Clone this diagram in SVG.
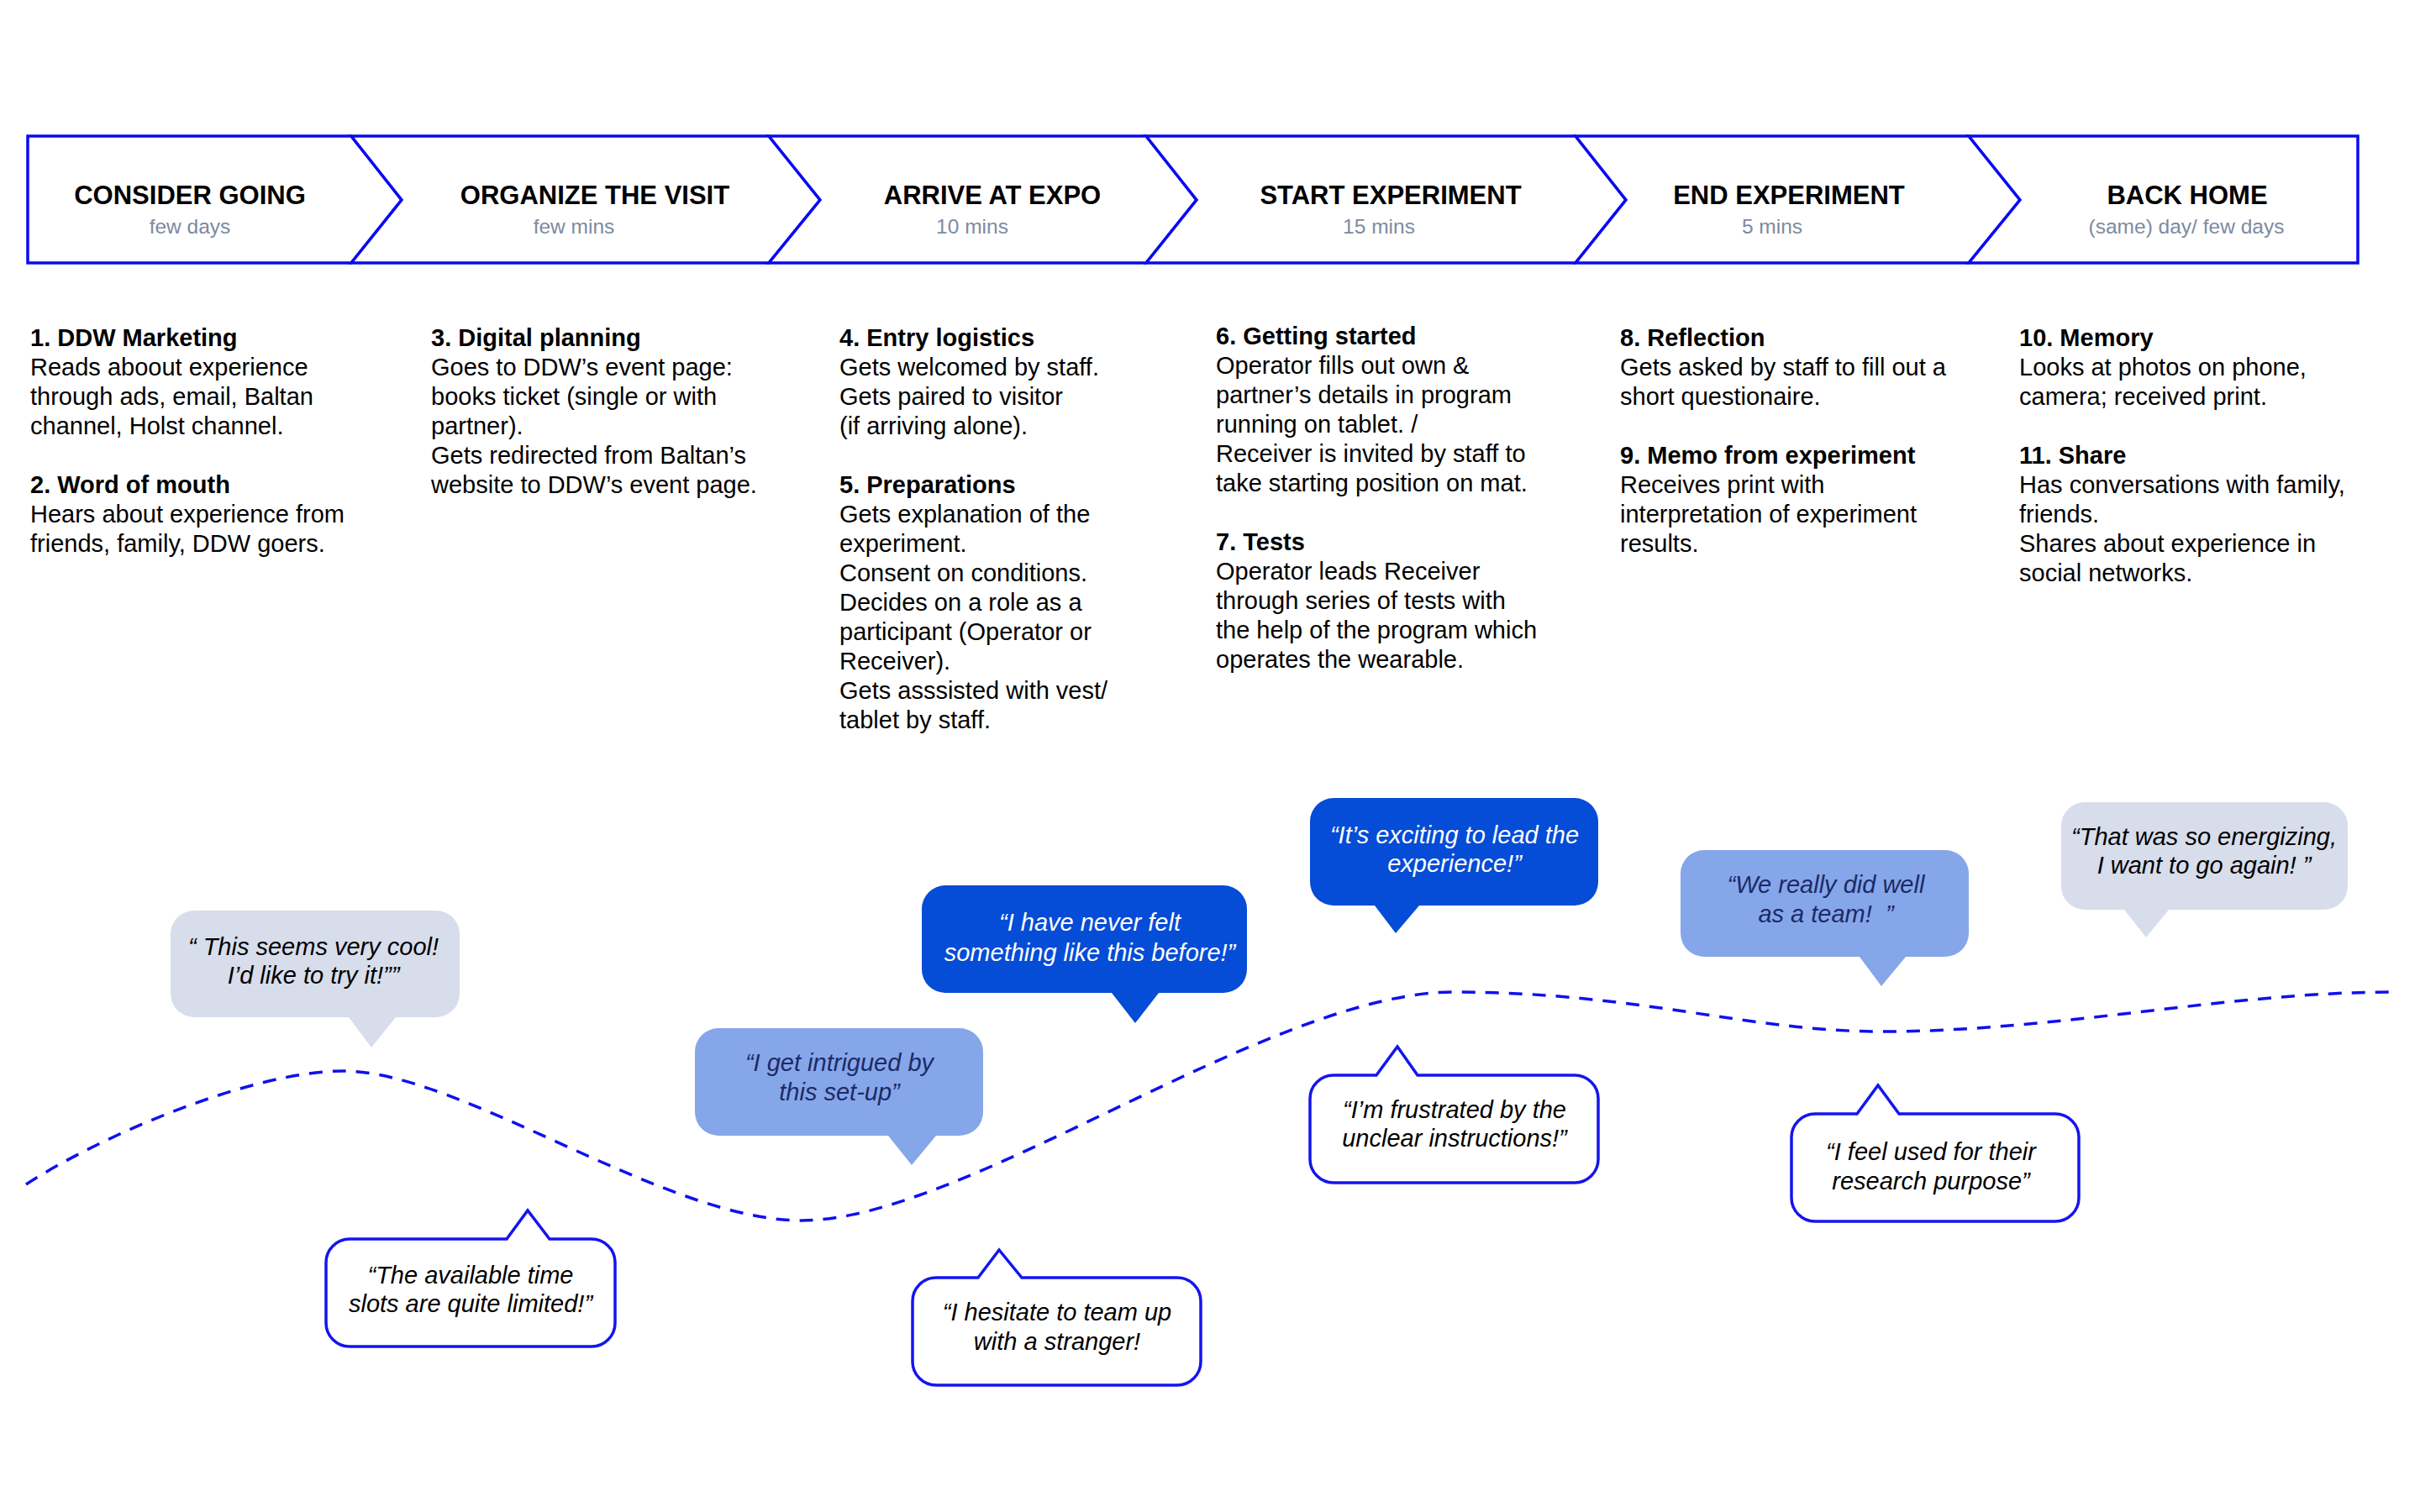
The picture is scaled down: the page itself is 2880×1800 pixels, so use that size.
<svg xmlns="http://www.w3.org/2000/svg" width="2880" height="1800" viewBox="0 0 2880 1800">
<style>
.stage{fill:#fff;stroke:#0a0af2;stroke-width:3.5;stroke-linejoin:miter}
.t{font-family:"Liberation Sans",Arial,Helvetica,sans-serif;font-size:31px;font-weight:bold;fill:#000;text-anchor:middle}
.s{font-family:"Liberation Sans",Arial,Helvetica,sans-serif;font-size:24.5px;fill:#7d8aa0;text-anchor:middle}
.b{font-family:"Liberation Sans",Arial,Helvetica,sans-serif;font-size:29px;fill:#000}
.h{font-weight:bold}
.q{font-family:"Liberation Sans",Arial,Helvetica,sans-serif;font-size:29px;font-style:italic;text-anchor:middle}
.light{fill:#d7ddeb}
.mid{fill:#86a6ea}
.strong{fill:#054cd7}
.out{fill:#fff;stroke:#1414f0;stroke-width:3.5}
.curve{fill:none;stroke:#1010ee;stroke-width:3.5;stroke-dasharray:16 12}
</style>
<rect width="2880" height="1800" fill="#fff"/>

<g id="stage-consider">
<polygon class="stage" points="33,162 418,162 478,238 418,313 33,313"/>
<text class="t" x="226" y="243">CONSIDER GOING</text>
<text class="s" x="226" y="278">few days</text>
</g>
<g id="stage-organize">
<polygon class="stage" points="418,162 915,162 976,238 915,313 418,313 478,238"/>
<text class="t" x="708" y="243">ORGANIZE THE VISIT</text>
<text class="s" x="683" y="278">few mins</text>
</g>
<g id="stage-arrive">
<polygon class="stage" points="915,162 1364,162 1424,238 1364,313 915,313 976,238"/>
<text class="t" x="1181" y="243">ARRIVE AT EXPO</text>
<text class="s" x="1157" y="278">10 mins</text>
</g>
<g id="stage-start">
<polygon class="stage" points="1364,162 1875,162 1935,238 1875,313 1364,313 1424,238"/>
<text class="t" x="1655" y="243">START EXPERIMENT</text>
<text class="s" x="1641" y="278">15 mins</text>
</g>
<g id="stage-end">
<polygon class="stage" points="1875,162 2343,162 2404,238 2343,313 1875,313 1935,238"/>
<text class="t" x="2129" y="243">END EXPERIMENT</text>
<text class="s" x="2109" y="278">5 mins</text>
</g>
<g id="stage-home">
<polygon class="stage" points="2343,162 2806,162 2806,313 2343,313 2404,238"/>
<text class="t" x="2603" y="243">BACK HOME</text>
<text class="s" x="2602" y="278">(same) day/ few days</text>
</g>

<g id="steps-1-2">
<text class="b" x="36" y="412"><tspan class="h" x="36" y="412">1. DDW Marketing</tspan><tspan x="36" y="447">Reads aboout experience</tspan><tspan x="36" y="482">through ads, email, Baltan</tspan><tspan x="36" y="517">channel, Holst channel.</tspan><tspan class="h" x="36" y="587">2. Word of mouth</tspan><tspan x="36" y="622">Hears about experience from</tspan><tspan x="36" y="657">friends, family, DDW goers.</tspan></text>
</g>
<g id="step-3">
<text class="b" x="513" y="412"><tspan class="h" x="513" y="412">3. Digital planning</tspan><tspan x="513" y="447">Goes to DDW’s event page:</tspan><tspan x="513" y="482">books ticket (single or with</tspan><tspan x="513" y="517">partner).</tspan><tspan x="513" y="552">Gets redirected from Baltan’s</tspan><tspan x="513" y="587">website to DDW’s event page.</tspan></text>
</g>
<g id="steps-4-5">
<text class="b" x="999" y="412"><tspan class="h" x="999" y="412">4. Entry logistics</tspan><tspan x="999" y="447">Gets welcomed by staff.</tspan><tspan x="999" y="482">Gets paired to visitor</tspan><tspan x="999" y="517">(if arriving alone).</tspan><tspan class="h" x="999" y="587">5. Preparations</tspan><tspan x="999" y="622">Gets explanation of the</tspan><tspan x="999" y="657">experiment.</tspan><tspan x="999" y="692">Consent on conditions.</tspan><tspan x="999" y="727">Decides on a role as a</tspan><tspan x="999" y="762">participant (Operator or</tspan><tspan x="999" y="797">Receiver).</tspan><tspan x="999" y="832">Gets asssisted with vest/</tspan><tspan x="999" y="867">tablet by staff.</tspan></text>
</g>
<g id="steps-6-7">
<text class="b" x="1447" y="410"><tspan class="h" x="1447" y="410">6. Getting started</tspan><tspan x="1447" y="445">Operator fills out own &amp;</tspan><tspan x="1447" y="480">partner’s details in program</tspan><tspan x="1447" y="515">running on tablet. /</tspan><tspan x="1447" y="550">Receiver is invited by staff to</tspan><tspan x="1447" y="585">take starting position on mat.</tspan><tspan class="h" x="1447" y="655">7. Tests</tspan><tspan x="1447" y="690">Operator leads Receiver</tspan><tspan x="1447" y="725">through series of tests with</tspan><tspan x="1447" y="760">the help of the program which</tspan><tspan x="1447" y="795">operates the wearable.</tspan></text>
</g>
<g id="steps-8-9">
<text class="b" x="1928" y="412"><tspan class="h" x="1928" y="412">8. Reflection</tspan><tspan x="1928" y="447">Gets asked by staff to fill out a</tspan><tspan x="1928" y="482">short questionaire.</tspan><tspan class="h" x="1928" y="552">9. Memo from experiment</tspan><tspan x="1928" y="587">Receives print with</tspan><tspan x="1928" y="622">interpretation of experiment</tspan><tspan x="1928" y="657">results.</tspan></text>
</g>
<g id="steps-10-11">
<text class="b" x="2403" y="412"><tspan class="h" x="2403" y="412">10. Memory</tspan><tspan x="2403" y="447">Looks at photos on phone,</tspan><tspan x="2403" y="482">camera; received print.</tspan><tspan class="h" x="2403" y="552">11. Share</tspan><tspan x="2403" y="587">Has conversations with family,</tspan><tspan x="2403" y="622">friends.</tspan><tspan x="2403" y="657">Shares about experience in</tspan><tspan x="2403" y="692">social networks.</tspan></text>
</g>

<g id="connectors">
<path class="curve" d="M31,1410 C120,1352 300,1275 408,1275 C550,1275 790,1453 954,1453 C1150,1453 1510,1181 1730,1181 C1950,1181 2080,1228 2239,1228 C2450,1228 2650,1181 2847,1181"/>
</g>

<g id="bubble-cool">
<path class="light" d="M231,1084 H519 A28,28 0 0 1 547,1112 V1183 A28,28 0 0 1 519,1211 H471 L442,1247 L415,1211 H231 A28,28 0 0 1 203,1183 V1112 A28,28 0 0 1 231,1084 Z"/>
<text class="q" fill="#000"><tspan x="373" y="1137">“ This seems very cool!</tspan><tspan x="373" y="1171">I’d like to try it!””</tspan></text>
</g>
<g id="bubble-timeslots">
<path class="out" d="M416,1475 H603 L628,1441 L654,1475 H704 A28,28 0 0 1 732,1503 V1575 A28,28 0 0 1 704,1603 H416 A28,28 0 0 1 388,1575 V1503 A28,28 0 0 1 416,1475 Z"/>
<text class="q" fill="#000"><tspan x="560" y="1528">“The available time</tspan><tspan x="560" y="1562">slots are quite limited!”</tspan></text>
</g>
<g id="bubble-intrigued">
<path class="mid" d="M855,1224 H1142 A28,28 0 0 1 1170,1252 V1324 A28,28 0 0 1 1142,1352 H1114 L1085,1387 L1057,1352 H855 A28,28 0 0 1 827,1324 V1252 A28,28 0 0 1 855,1224 Z"/>
<text class="q" fill="#1c2a66"><tspan x="999" y="1275">“I get intrigued by</tspan><tspan x="999" y="1310">this set-up”</tspan></text>
</g>
<g id="bubble-neverfelt">
<path class="strong" d="M1125,1054 H1456 A28,28 0 0 1 1484,1082 V1154 A28,28 0 0 1 1456,1182 H1379 L1351,1218 L1323,1182 H1125 A28,28 0 0 1 1097,1154 V1082 A28,28 0 0 1 1125,1054 Z"/>
<text class="q" fill="#fff"><tspan x="1297" y="1108">“I have never felt</tspan><tspan x="1297" y="1144">something like this before!”</tspan></text>
</g>
<g id="bubble-hesitate">
<path class="out" d="M1114,1521 H1164 L1189,1488 L1216,1521 H1401 A28,28 0 0 1 1429,1549 V1621 A28,28 0 0 1 1401,1649 H1114 A28,28 0 0 1 1086,1621 V1549 A28,28 0 0 1 1114,1521 Z"/>
<text class="q" fill="#000"><tspan x="1258" y="1572">“I hesitate to team up</tspan><tspan x="1258" y="1607">with a stranger!</tspan></text>
</g>
<g id="bubble-exciting">
<path class="strong" d="M1587,950 H1874 A28,28 0 0 1 1902,978 V1050 A28,28 0 0 1 1874,1078 H1689 L1661,1111 L1636,1078 H1587 A28,28 0 0 1 1559,1050 V978 A28,28 0 0 1 1587,950 Z"/>
<text class="q" fill="#fff"><tspan x="1731" y="1004">“It’s exciting to lead the</tspan><tspan x="1731" y="1038">experience!”</tspan></text>
</g>
<g id="bubble-frustrated">
<path class="out" d="M1587,1280 H1638 L1663,1246 L1687,1280 H1874 A28,28 0 0 1 1902,1308 V1380 A28,28 0 0 1 1874,1408 H1587 A28,28 0 0 1 1559,1380 V1308 A28,28 0 0 1 1587,1280 Z"/>
<text class="q" fill="#000"><tspan x="1731" y="1331">“I’m frustrated by the</tspan><tspan x="1731" y="1365">unclear instructions!”</tspan></text>
</g>
<g id="bubble-team">
<path class="mid" d="M2028,1012 H2315 A28,28 0 0 1 2343,1040 V1111 A28,28 0 0 1 2315,1139 H2268 L2239,1174 L2213,1139 H2028 A28,28 0 0 1 2000,1111 V1040 A28,28 0 0 1 2028,1012 Z"/>
<text class="q" fill="#1c2a66"><tspan x="2173" y="1063">“We really did well</tspan><tspan x="2173" y="1098">as a team!&#160; ”</tspan></text>
</g>
<g id="bubble-energizing">
<path class="light" d="M2481,955 H2766 A28,28 0 0 1 2794,983 V1055 A28,28 0 0 1 2766,1083 H2581 L2554,1116 L2528,1083 H2481 A28,28 0 0 1 2453,1055 V983 A28,28 0 0 1 2481,955 Z"/>
<text class="q" fill="#000"><tspan x="2623" y="1006">“That was so energizing,</tspan><tspan x="2623" y="1040">I want to go again! ”</tspan></text>
</g>
<g id="bubble-used">
<path class="out" d="M2160,1326 H2210 L2235,1292 L2260,1326 H2446 A28,28 0 0 1 2474,1354 V1426 A28,28 0 0 1 2446,1454 H2160 A28,28 0 0 1 2132,1426 V1354 A28,28 0 0 1 2160,1326 Z"/>
<text class="q" fill="#000"><tspan x="2298" y="1381">“I feel used for their</tspan><tspan x="2298" y="1416">research purpose”</tspan></text>
</g>
</svg>
